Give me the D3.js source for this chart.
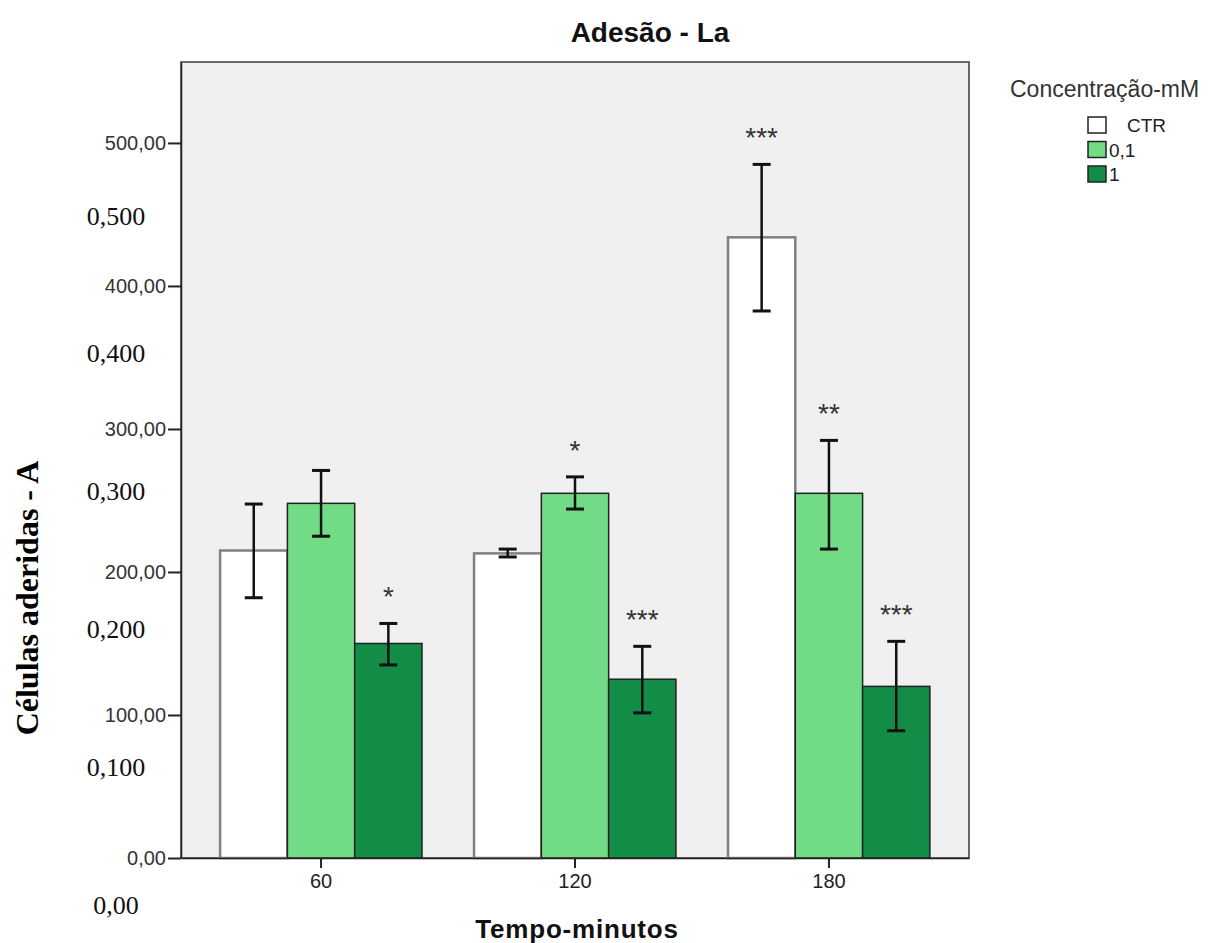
<!DOCTYPE html>
<html>
<head>
<meta charset="utf-8">
<script src="https://cdn.jsdelivr.net/npm/d3@7"></script>
<style>
  body { margin: 0; background: #fff; }
  text { font-family: "Liberation Sans", Arial, sans-serif; }
</style>
</head>
<body>
<div id="chart"></div>
<script>
// dados
var tempos = ["60", "120", "180"];
var grupos = ["CTR", "0,1", "1"];
var mediaCTR = [215, 213, 434];
var media01 = [248, 255, 255];
var media1 = [150, 125, 120];
var infCTR = [182, 210.5, 382.5];
var supCTR = [247.5, 216, 485];
var inf01 = [225, 244, 216];
var sup01 = [271, 266.5, 292];
var inf1 = [135, 101.5, 89];
var sup1 = [164, 148, 151.5];
var estrelasCTR = ["", "", "***"];
var estrelas01 = ["", "*", "**"];
var estrelas1 = ["*", "***", "***"];
var yTicks = [0, 100, 200, 300, 400, 500];
// rótulos sobrepostos (Times) à esquerda
var rotulos2 = ["0,00", "0,100", "0,200", "0,300", "0,400", "0,500"];
var valores2 = [0, 0.1, 0.2, 0.3, 0.4, 0.5];

var cores = ["#ffffff", "#71dc85", "#138c47"];
var bordas = ["#808080", "#222222", "#222222"];

var svg = d3.select("#chart").append("svg")
    .attr("width", 1224)
    .attr("height", 943);

var x0 = d3.scaleBand().domain(tempos).range([181, 969])
    .paddingInner(0.205).paddingOuter(0.154);
var x1 = d3.scaleBand().domain(grupos).range([0, x0.bandwidth()]);
var y = d3.scaleLinear().domain([0, 556.6]).range([858, 62]);
var y2 = d3.scaleLinear().domain([0, 0.5]).range([905, 216]);

// fundo da área do gráfico
svg.append("rect")
    .attr("x", 181).attr("y", 62)
    .attr("width", 788).attr("height", 796)
    .attr("fill", "#f0f0f0")
    .attr("stroke", "#3a3a3a")
    .attr("stroke-width", 1.5);

// montar tabela
var series = [
  { media: mediaCTR, inf: infCTR, sup: supCTR, est: estrelasCTR },
  { media: media01, inf: inf01, sup: sup01, est: estrelas01 },
  { media: media1, inf: inf1, sup: sup1, est: estrelas1 }
];
var linhas = [];
tempos.forEach(function(t, i) {
  grupos.forEach(function(g, j) {
    linhas.push({ t: t, g: g, j: j, m: series[j].media[i], lo: series[j].inf[i],
                  hi: series[j].sup[i], s: series[j].est[i] });
  });
});

// barras
svg.selectAll("rect.barra").data(linhas).enter().append("rect")
    .attr("class", "barra")
    .attr("x", function(d) { return x0(d.t) + x1(d.g); })
    .attr("y", function(d) { return y(d.m); })
    .attr("width", x1.bandwidth())
    .attr("height", function(d) { return y(0) - y(d.m); })
    .attr("fill", function(d) { return cores[d.j]; })
    .attr("stroke", function(d) { return bordas[d.j]; })
    .attr("stroke-width", function(d) { return d.j == 0 ? 2.5 : 1.5; });

// barras de erro
var cx = function(d) { return x0(d.t) + x1(d.g) + x1.bandwidth() / 2; };
svg.selectAll("line.erro").data(linhas).enter().append("line")
    .attr("x1", cx).attr("x2", cx)
    .attr("y1", function(d) { return y(d.lo); })
    .attr("y2", function(d) { return y(d.hi); })
    .attr("stroke", "#111").attr("stroke-width", 2.5);
["lo", "hi"].forEach(function(k) {
  svg.selectAll("line.cap" + k).data(linhas).enter().append("line")
      .attr("x1", function(d) { return cx(d) - 9; })
      .attr("x2", function(d) { return cx(d) + 9; })
      .attr("y1", function(d) { return y(d[k]); })
      .attr("y2", function(d) { return y(d[k]); })
      .attr("stroke", "#111").attr("stroke-width", 3);
});

// asteriscos
svg.selectAll("text.est").data(linhas.filter(function(d) { return d.s; })).enter().append("text")
    .attr("x", cx)
    .attr("y", function(d) { return y(d.hi) - 33 + 16; })
    .attr("text-anchor", "middle")
    .attr("font-size", 28)
    .attr("fill", "#333")
    .text(function(d) { return d.s; });

// eixo Y
var fmt = function(v) { return d3.format(".2f")(v).replace(".", ","); };
var eixoY = svg.append("g")
    .attr("transform", "translate(181,0)")
    .call(d3.axisLeft(y).tickValues(yTicks).tickFormat(fmt).tickSize(13).tickSizeOuter(0));
eixoY.select(".domain").attr("stroke", "#222").attr("stroke-width", 1.5);
eixoY.selectAll(".tick line").attr("stroke", "#222").attr("stroke-width", 2);
eixoY.selectAll(".tick text")
    .attr("font-family", "Liberation Sans, Arial, sans-serif")
    .attr("font-size", 20).attr("fill", "#333").attr("x", -15);

// eixo X
var eixoX = svg.append("g")
    .attr("transform", "translate(0,858)")
    .call(d3.axisBottom(x0).tickSize(10).tickSizeOuter(0));
eixoX.select(".domain").attr("stroke", "#222").attr("stroke-width", 1.5);
eixoX.selectAll(".tick line").attr("stroke", "#222").attr("stroke-width", 2);
eixoX.selectAll(".tick text")
    .attr("font-family", "Liberation Sans, Arial, sans-serif")
    .attr("font-size", 20).attr("fill", "#222").attr("y", 16);

// rótulos sobrepostos em Times
svg.selectAll("text.r2").data(valores2).enter().append("text")
    .attr("x", 116)
    .attr("y", function(d) { return y2(d); })
    .attr("dominant-baseline", "central")
    .attr("text-anchor", "middle")
    .style("font-family", "Liberation Serif, Times New Roman, serif")
    .attr("font-size", 26)
    .attr("fill", "#111")
    .text(function(d, i) { return rotulos2[i]; });

// título
svg.append("text")
    .attr("x", 650).attr("y", 42)
    .attr("text-anchor", "middle")
    .attr("font-size", 28).attr("font-weight", "bold")
    .attr("fill", "#111")
    .text("Adesão - La");

// títulos dos eixos
svg.append("text")
    .attr("x", 577).attr("y", 938)
    .attr("text-anchor", "middle")
    .attr("font-size", 26).attr("font-weight", "bold")
    .attr("letter-spacing", 0.8)
    .attr("fill", "#111")
    .text("Tempo-minutos");

svg.append("text")
    .attr("transform", "translate(38,598) rotate(-90)")
    .attr("text-anchor", "middle")
    .style("font-family", "Liberation Serif, Times New Roman, serif")
    .attr("font-size", 32).attr("font-weight", "bold")
    .attr("fill", "#000")
    .text("Células aderidas - A");

// legenda
svg.append("text")
    .attr("x", 1010).attr("y", 97)
    .attr("font-size", 23)
    .attr("fill", "#333")
    .text("Concentração-mM");

var leg = svg.selectAll("g.leg").data(grupos).enter().append("g")
    .attr("transform", function(d, i) { return "translate(1088," + (117 + i * 24.5) + ")"; });
leg.append("rect")
    .attr("width", 18).attr("height", 16)
    .attr("fill", function(d, i) { return cores[i]; })
    .attr("stroke", "#222").attr("stroke-width", 1.5);
leg.append("text")
    .attr("x", function(d, i) { return i == 0 ? 39 : 21; })
    .attr("y", 15)
    .attr("font-size", 19)
    .attr("fill", "#222")
    .text(function(d) { return d; });
</script>
</body>
</html>
